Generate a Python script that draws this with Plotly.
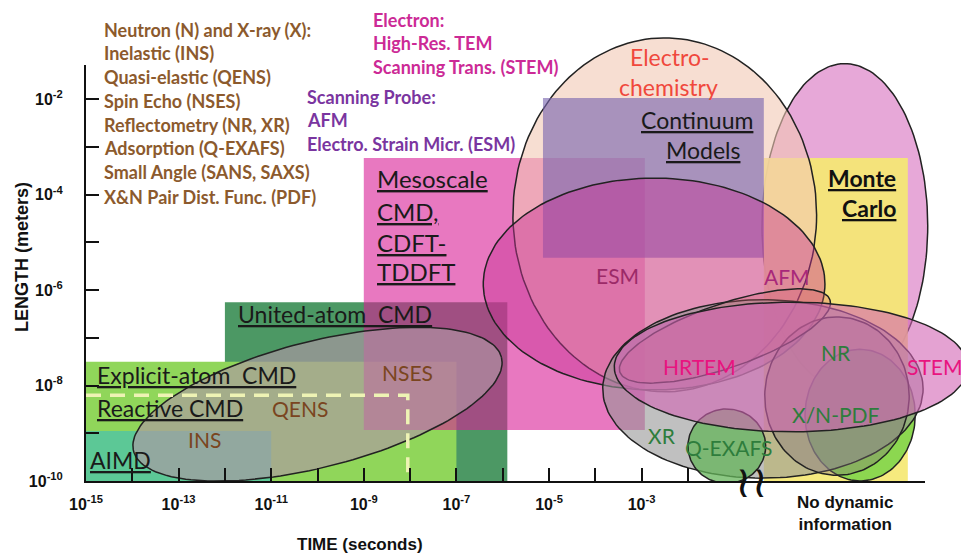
import numpy as np
import plotly.graph_objects as go

# Drawing scale of the original chart: pixels per decade on each axis
PX_T = 46.3
PX_L = 47.7
PLOT_W, PLOT_H = 883, 446

T_MIN, L_MIN = -15, -10
T_MAX = T_MIN + PLOT_W / PX_T
L_MAX = L_MIN + PLOT_H / PX_L
T_AXIS_END = 3.12     # drawn time axis stops here (log10 s)
L_AXIS_END = -1.28    # drawn length axis stops here (log10 m)

# ---- simulation method boxes (log10 time in s, log10 length in m)
BOX_NAMES = ["United-atom", "Explicit-atom", "AIMD", "Mesoscale", "Continuum", "MonteCarlo"]
BOX_T0 = [-12.0, -15.0, -15.0, -9.0, -5.13, -0.36]
BOX_T1 = [-5.9, -7.0, -11.0, -2.93, -0.36, 2.75]
BOX_L0 = [-10.0, -10.0, -10.0, -8.93, -5.32, -10.0]
BOX_L1 = [-6.25, -7.5, -8.95, -3.23, -1.97, -3.23]

# reactive CMD limit (dashed corner)
REACTIVE_T = -8.05
REACTIVE_L = -8.2

# ---- experimental technique ellipses: centre, half widths (decades), tilt (deg)
ELL_NAMES = ["Electrochem", "MonteCarloEll", "ESM", "Neutron", "Lime", "XR", "QEXAFS", "NR", "HRTEM", "STEM"]
ELL_T = [-2.50, 1.39, -2.73, -10.0, 1.72, -0.38, -1.16, 1.22, -1.20, 0.23]
ELL_L = [-4.42, -4.65, -5.87, -8.39, -8.62, -8.07, -9.27, -8.22, -6.96, -7.61]
ELL_RT = [3.28, 1.79, 3.69, 4.10, 1.19, 3.46, 0.84, 1.56, 2.40, 3.82]
ELL_RL = [3.71, 3.40, 2.22, 1.32, 1.38, 1.87, 0.78, 1.66, 0.67, 1.36]
ELL_TILT = [0, 0, 0, 14.3, 0, 0, 0, 0, 19, 0]

# ---- axis ticks
X_TICKS = list(range(-15, -1))
X_TICK_TEXT = ["10<sup>-15</sup>", "", "10<sup>-13</sup>", "", "10<sup>-11</sup>", "",
               "10<sup>-9</sup>", "", "10<sup>-7</sup>", "", "10<sup>-5</sup>", "",
               "10<sup>-3</sup>", ""]
Y_TICKS = list(range(-10, -1))
Y_TICK_TEXT = ["10<sup>-10</sup>", "", "10<sup>-8</sup>", "", "10<sup>-6</sup>", "",
               "10<sup>-4</sup>", "", "10<sup>-2</sup>"]

# ---- text blocks
NEUTRON_LINES = ["Neutron (N) and X-ray (X):", "Inelastic (INS)", "Quasi-elastic (QENS)",
                 "Spin Echo (NSES)", "Reflectometry (NR, XR)", "Adsorption (Q-EXAFS)",
                 "Small Angle (SANS, SAXS)", "X&N Pair Dist. Func. (PDF)"]
NEUTRON_L = [-0.545, -1.03, -1.53, -2.03, -2.54, -3.02, -3.52, -4.05]
NEUTRON_T = -14.65

ELECTRON_LINES = ["Electron:", "High-Res. TEM", "Scanning Trans. (STEM)"]
ELECTRON_L = [-0.335, -0.82, -1.32]
ELECTRON_T = -8.85

PROBE_LINES = ["Scanning Probe:", "AFM", "Electro. Strain Micr. (ESM)"]
PROBE_L = [-1.95, -2.43, -2.94]
PROBE_T = -10.28

MESO_LINES = ["Mesoscale", "CMD,", "CDFT-", "TDDFT"]
MESO_L = [-3.65, -4.36, -4.99, -5.60]
MESO_T = -8.76

# underlined method labels, left anchored
METHOD_TEXT = ["United-atom\u00a0 CMD", "Explicit-atom\u00a0 CMD", "Reactive CMD", "AIMD"]
METHOD_T = [-11.76, -14.80, -14.80, -14.96]
METHOD_L = [-6.50, -7.78, -8.47, -9.56]

# technique labels inside ellipses
TECH_TEXT = ["INS", "QENS", "NSES", "ESM", "AFM", "HRTEM", "STEM", "NR", "X/N-PDF", "XR", "Q-EXAFS"]
TECH_T = [-12.43, -10.38, -8.05, -3.53, 0.14, -1.76, 3.32, 1.20, 1.20, -2.56, -1.11]
TECH_L = [-9.14, -8.47, -7.72, -5.70, -5.72, -7.61, -7.61, -7.30, -8.60, -9.04, -9.29]

# ---- styles
FILL = {
    "United-atom": "rgb(76,152,100)",
    "Explicit-atom": "rgb(144,214,90)",
    "AIMD": "rgb(92,200,150)",
    "Mesoscale": "rgba(217,30,150,0.6)",
    "Continuum": "rgba(120,100,175,0.62)",
    "MonteCarlo": "rgba(245,232,115,0.92)",
    "Electrochem": "rgba(242,200,180,0.6)",
    "MonteCarloEll": "rgba(215,110,190,0.6)",
    "ESM": "rgba(200,50,150,0.45)",
    "Neutron": "rgba(175,150,165,0.65)",
    "Lime": "rgb(140,215,80)",
    "XR": "rgba(150,150,150,0.6)",
    "QEXAFS": "rgba(100,180,90,0.75)",
    "NR": "rgba(130,110,120,0.35)",
    "HRTEM": "rgba(215,95,110,0.3)",
    "STEM": "rgba(210,100,180,0.6)",
}
DRAW_ORDER = [("box", "United-atom"), ("box", "Explicit-atom"), ("box", "AIMD"),
              ("ell", "MonteCarloEll"), ("box", "MonteCarlo"), ("box", "Mesoscale"),
              ("ell", "Electrochem"), ("box", "Continuum"), ("ell", "ESM"),
              ("ell", "Neutron"), ("ell", "Lime"), ("ell", "XR"), ("ell", "QEXAFS"),
              ("ell", "NR"), ("ell", "HRTEM"), ("ell", "STEM")]

LABEL_FONT = "Lato, Open Sans, sans-serif"
AXIS_FONT = "Liberation Sans, Arial, sans-serif"
BROWN = "#8c5a2d"
TECH_COLORS = ["#7a4520", "#7a4520", "#7a4520", "#9c2a68", "#a8287a", "#e8147f",
               "#e8147f", "#2e7d3c", "#2e7d3c", "#2e7d3c", "#2e7d3c"]

# the page body adds an 8 px offset, so the figure is shifted back by that much
PAGE_PAD = 8


def ellipse_xy(ct, cl, rt, rl, tilt, n=160):
    """Ellipse outline in data units, tilted in screen space."""
    a = np.linspace(0, 2 * np.pi, n)
    u = rt * PX_T * np.cos(a)
    v = rl * PX_L * np.sin(a)
    th = np.radians(tilt)
    px = u * np.cos(th) - v * np.sin(th)
    py = u * np.sin(th) + v * np.cos(th)
    return ct + px / PX_T, cl + py / PX_L


def to_paper(t, l):
    return (t - T_MIN) / (T_MAX - T_MIN), (l - L_MIN) / (L_MAX - L_MIN)


fig = go.Figure()

for kind, name in DRAW_ORDER:
    if kind == "box":
        i = BOX_NAMES.index(name)
        xs = [BOX_T0[i], BOX_T1[i], BOX_T1[i], BOX_T0[i], BOX_T0[i]]
        ys = [BOX_L0[i], BOX_L0[i], BOX_L1[i], BOX_L1[i], BOX_L0[i]]
        line = dict(width=0)
    else:
        i = ELL_NAMES.index(name)
        xs, ys = ellipse_xy(ELL_T[i], ELL_L[i], ELL_RT[i], ELL_RL[i], ELL_TILT[i])
        line = dict(color="#222222", width=1.5)
    fig.add_trace(go.Scatter(
        x=xs, y=ys, mode="lines", fill="toself", fillcolor=FILL[name],
        line=line, hoverinfo="skip", showlegend=False,
    ))

# Reactive CMD dashed boundary
fig.add_trace(go.Scatter(
    x=[T_MIN, REACTIVE_T, REACTIVE_T], y=[REACTIVE_L, REACTIVE_L, L_MIN],
    mode="lines", line=dict(color="#eef3b4", width=3.5, dash="15px,9px"),
    hoverinfo="skip", showlegend=False,
))

# dummy trace so the visible axis pair gets drawn
fig.add_trace(go.Scatter(
    x=[T_MIN], y=[L_MIN], xaxis="x2", yaxis="y2", mode="markers",
    marker=dict(opacity=0), hoverinfo="skip", showlegend=False,
))


def note(text, t, l, color, size, xanchor="center", family=LABEL_FONT, **kw):
    x, y = to_paper(t, l)
    fig.add_annotation(x=x, y=y, xref="paper", yref="paper", text=text,
                       showarrow=False, xanchor=xanchor, yanchor="middle",
                       font=dict(color=color, size=size, family=family), **kw)


for txt, l in zip(NEUTRON_LINES, NEUTRON_L):
    note(f"<b>{txt}</b>", NEUTRON_T, l, BROWN, 18, "left")
for txt, l in zip(ELECTRON_LINES, ELECTRON_L):
    note(f"<b>{txt}</b>", ELECTRON_T, l, "#cc2a96", 18, "left")
for txt, l in zip(PROBE_LINES, PROBE_L):
    note(f"<b>{txt}</b>", PROBE_T, l, "#7a35a0", 18, "left")
for txt, l in zip(MESO_LINES, MESO_L):
    note(f"<u>{txt}</u>", MESO_T, l, "#1a1a1a", 24, "left")
for txt, t, l in zip(METHOD_TEXT, METHOD_T, METHOD_L):
    note(f"<u>{txt}</u>", t, l, "#1a1a1a", 23, "left")
for txt, t, l, c in zip(TECH_TEXT, TECH_T, TECH_L, TECH_COLORS):
    note(txt, t, l, c, 21)

note("Electro-", -2.39, -1.11, "#f0483c", 23)
note("chemistry", -2.41, -1.74, "#f0483c", 23)
note("<u>Continuum</u>", -1.80, -2.43, "#1a1a1a", 23)
note("<u>Models</u>", -1.67, -3.06, "#1a1a1a", 23)
note("<b><u>Monte</u></b>", 2.54, -3.65, "#111111", 23, "right")
note("<b><u>Carlo</u></b>", 2.54, -4.28, "#111111", 23, "right")

# axis titles and the break
note("<b>LENGTH (meters)</b>", -16.38, -5.3, "#111111", 18, family=AXIS_FONT, textangle=-90)
note("<b>TIME (seconds)</b>", -9.08, -11.34, "#111111", 17, family=AXIS_FONT)
note("<b>No dynamic<br>information</b>", 1.39, -10.69, "#111111", 17, family=AXIS_FONT)
note("≀≀", -0.62, -10.02, "#111111", 44, family="DejaVu Sans")

axis2 = dict(
    showline=True, linecolor="#111111", linewidth=2, mirror=False,
    ticks="inside", ticklen=13, tickwidth=1.5, tickcolor="#111111",
    showgrid=False, zeroline=False, automargin=False,
    tickfont=dict(family=AXIS_FONT, size=16, color="#111111"),
)

fig.update_layout(
    width=969 - PAGE_PAD, height=557 - PAGE_PAD,
    margin=dict(l=86 - PAGE_PAD, r=0, t=35 - PAGE_PAD, b=76, autoexpand=False),
    paper_bgcolor="white",
    plot_bgcolor="rgba(0,0,0,0)",
    hovermode=False,
    xaxis=dict(range=[T_MIN, T_MAX], domain=[0, 1], visible=False, automargin=False),
    yaxis=dict(range=[L_MIN, L_MAX], domain=[0, 1], visible=False, automargin=False),
    xaxis2=dict(range=[T_MIN, T_AXIS_END], anchor="y2",
                domain=[0, (T_AXIS_END - T_MIN) / (T_MAX - T_MIN)],
                tickvals=X_TICKS, ticktext=[f"<b>{s}</b>" if s else "" for s in X_TICK_TEXT],
                ticklabelstandoff=8, **axis2),
    yaxis2=dict(range=[L_MIN, L_AXIS_END], anchor="x2",
                domain=[0, (L_AXIS_END - L_MIN) / (L_MAX - L_MIN)],
                tickvals=Y_TICKS, ticktext=[f"<b>{s}</b>" if s else "" for s in Y_TICK_TEXT],
                ticklabelstandoff=18, **axis2),
)

fig.write_html("out.html")
